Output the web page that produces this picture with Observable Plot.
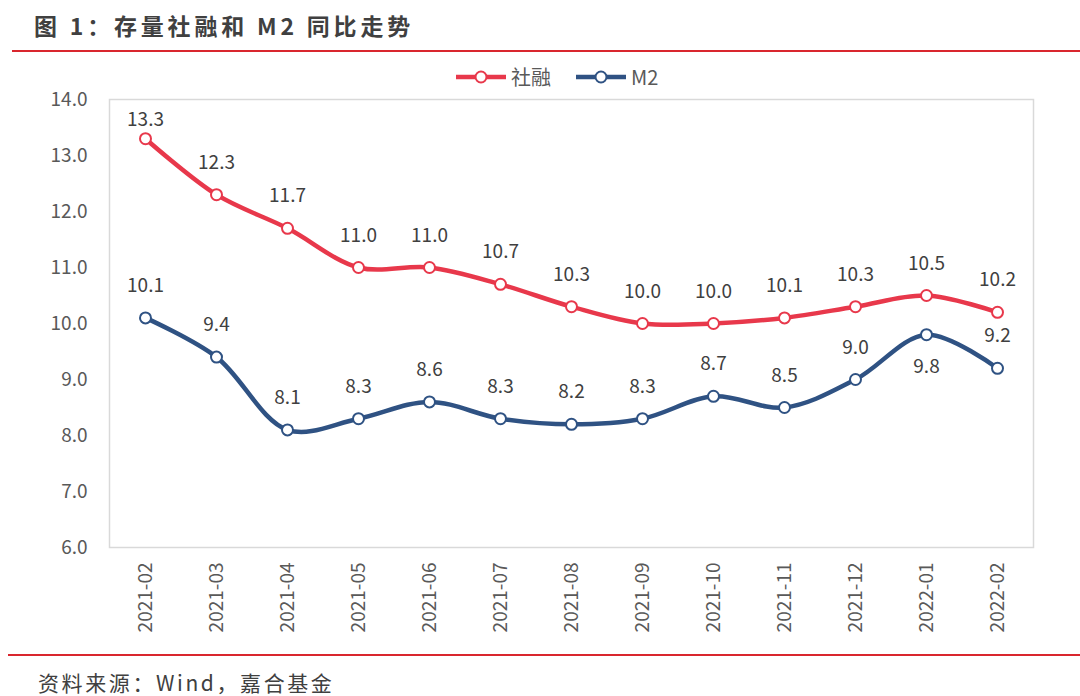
<!DOCTYPE html>
<html>
<head>
<meta charset="utf-8">
<script src="https://cdn.jsdelivr.net/npm/d3@7"></script>
<script src="https://cdn.jsdelivr.net/npm/@observablehq/plot@0.6"></script>
<style>
  html, body { margin: 0; padding: 0; background: #fff; }
  #page { position: relative; width: 1080px; height: 696px; overflow: hidden; font-family: "Noto Sans CJK SC", "Noto Sans", sans-serif; }
  #title { position: absolute; left: 34px; top: 8px; font-size: 23px; font-weight: bold; color: #404040; letter-spacing: 3.8px; white-space: nowrap; font-family: "Noto Sans CJK SC", sans-serif; }
  .rule { position: absolute; height: 2px; background: #d9262e; }
  #legend { position: absolute; top: 62px; left: 455px; display: flex; align-items: center; font-size: 20px; color: #595959; white-space: nowrap; }
  #legend .item { display: flex; align-items: center; margin-right: 24px; }
  #legend svg { margin-right: 4px; }
  #chart { position: absolute; left: 0; top: 55px; }
  #caption { position: absolute; left: 38px; top: 671px; font-size: 21px; line-height: 22px; color: #404040; letter-spacing: 2.6px; white-space: nowrap; }
</style>
</head>
<body>
<div id="page">
  <div id="title">图 1：存量社融和 M2 同比走势</div>
  <div class="rule" style="left:12px; right:0; top:50px;"></div>
  <div id="chart"></div>
  <div id="legend"></div>
  <div class="rule" style="left:8px; right:0; top:654px;"></div>
  <div id="caption">资料来源：Wind，嘉合基金</div>
</div>
<script>
const months = ["2021-02","2021-03","2021-04","2021-05","2021-06","2021-07","2021-08","2021-09","2021-10","2021-11","2021-12","2022-01","2022-02"];
const tsfValues = [13.3,12.3,11.7,11.0,11.0,10.7,10.3,10.0,10.0,10.1,10.3,10.5,10.2];
const m2Values = [10.1,9.4,8.1,8.3,8.6,8.3,8.2,8.3,8.7,8.5,9.0,9.8,9.2];
const seriesNames = ["社融","M2"];
const yTicks = [6,7,8,9,10,11,12,13,14];
const m2LabelsBelow = ["2022-01"];

const colors = {"社融": "#e8384b", "M2": "#2f5283"};
const data = [];
months.forEach((m, i) => {
  data.push({month: m, series: "社融", value: tsfValues[i]});
  data.push({month: m, series: "M2", value: m2Values[i]});
});
const fmt = d3.format(".1f");
const yMax = 14;
const above = data.filter(d => !(d.series === "M2" && m2LabelsBelow.includes(d.month)));
const below = data.filter(d => d.series === "M2" && m2LabelsBelow.includes(d.month));
const labelFont = {fontSize: 19, fill: "#404040", fontFamily: "Noto Sans CJK SC, Noto Sans, sans-serif"};

const chart = Plot.plot({
  width: 1080,
  height: 595,
  marginTop: 44,
  marginBottom: 103,
  marginLeft: 109,
  marginRight: 47,
  style: {fontFamily: "Noto Sans CJK SC, Noto Sans, sans-serif", fontSize: "19px", color: "#595959", background: "white"},
  x: {type: "point", domain: months, padding: 0.5, label: null},
  y: {domain: [6, 14], label: null},
  color: {domain: seriesNames, range: seriesNames.map(s => colors[s])},
  marks: [
    Plot.frame({stroke: "#d9d9d9", strokeWidth: 1.5}),
    Plot.axisY({ticks: yTicks, tickFormat: fmt, tickSize: 0, tickPadding: 22, fontSize: 19, fill: "#595959", label: null}),
    Plot.axisX({tickRotate: -90, tickSize: 0, tickPadding: 15, fontSize: 19, fill: "#595959", label: null}),
    Plot.line(data, {x: "month", y: "value", z: "series", stroke: "series", strokeWidth: 4.5, curve: "catmull-rom"}),
    Plot.dot(data, {x: "month", y: "value", stroke: "series", fill: "white", r: 5.5, strokeWidth: 2}),
    Plot.text(above.filter(d => d.value <= yMax - 1), {x: "month", y: "value", text: d => fmt(d.value), dy: -32, ...labelFont}),
    Plot.text(above.filter(d => d.value > yMax - 1), {x: "month", y: "value", text: d => fmt(d.value), dy: -19, ...labelFont}),
    Plot.text(below, {x: "month", y: "value", text: d => fmt(d.value), dy: 32, ...labelFont})
  ]
});
document.getElementById("chart").appendChild(chart);

const legend = document.getElementById("legend");
seriesNames.forEach(s => {
  const item = document.createElement("div");
  item.className = "item";
  item.innerHTML = `<svg width="52" height="16"><line x1="1" y1="8" x2="51" y2="8" stroke="${colors[s]}" stroke-width="4.5"/><circle cx="26" cy="8" r="5.5" fill="white" stroke="${colors[s]}" stroke-width="2"/></svg><span>${s}</span>`;
  legend.appendChild(item);
});
</script>
</body>
</html>
